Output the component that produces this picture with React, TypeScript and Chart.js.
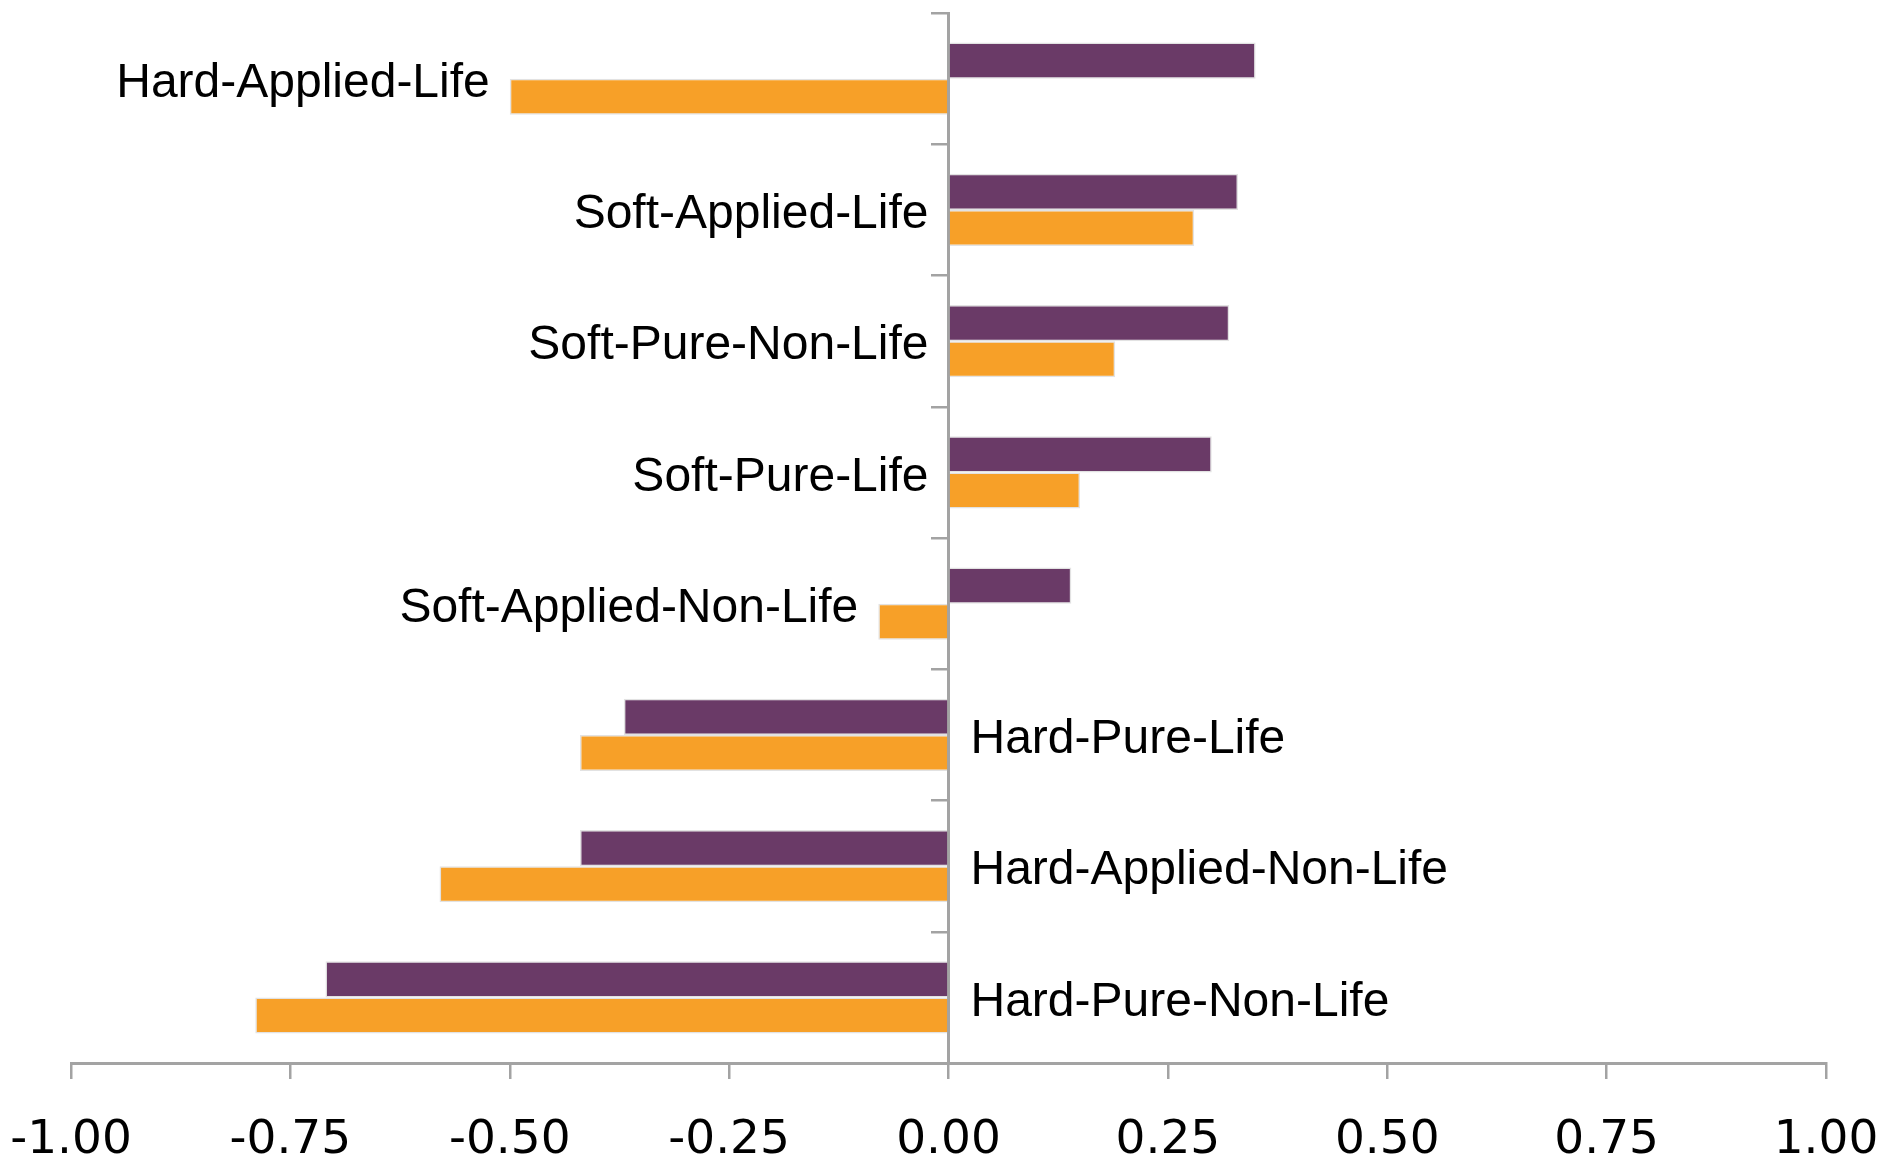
import React, { useEffect, useRef } from "react";
import { Chart, registerables } from "chart.js";

Chart.register(...registerables);

const categories = [
  "Hard-Applied-Life",
  "Soft-Applied-Life",
  "Soft-Pure-Non-Life",
  "Soft-Pure-Life",
  "Soft-Applied-Non-Life",
  "Hard-Pure-Life",
  "Hard-Applied-Non-Life",
  "Hard-Pure-Non-Life",
];
const purpleValues = [0.35, 0.33, 0.32, 0.3, 0.14, -0.37, -0.42, -0.71];
const orangeValues = [-0.5, 0.28, 0.19, 0.15, -0.08, -0.42, -0.58, -0.79];
const xTickMin = -1;
const xTickMax = 1;
const xTickStep = 0.25;

const PURPLE = "#6a3a67";
const ORANGE = "#f7a028";
const AXIS_GREY = "#a3a3a3";

const categoryLabelPlugin = {
  id: "categoryLabels",
  afterDatasetsDraw(chart: any) {
    const { ctx, scales } = chart;
    const xs = scales.x;
    const ys = scales.y;
    ctx.save();
    ctx.font = '48px "Liberation Sans", Arial, sans-serif';
    ctx.fillStyle = "#000";
    ctx.textBaseline = "middle";
    categories.forEach((label: string, i: number) => {
      const vals = [purpleValues[i], orangeValues[i]];
      const mn = Math.min(...vals);
      const mx = Math.max(...vals);
      const y = ys.getPixelForValue(i) + 5;
      if (mx > 0) {
        ctx.textAlign = "right";
        ctx.fillText(label, xs.getPixelForValue(Math.min(0, mn)) - 20, y);
      } else {
        ctx.textAlign = "left";
        ctx.fillText(label, xs.getPixelForValue(0) + 22, y);
      }
    });
    ctx.restore();
  },
};

export default function App() {
  const canvasRef = useRef<HTMLCanvasElement | null>(null);

  useEffect(() => {
    const canvas = canvasRef.current;
    if (!canvas) return;
    const chart = new Chart(canvas, {
      type: "bar",
      data: {
        labels: categories,
        datasets: [
          {
            label: "Series 1",
            data: purpleValues,
            backgroundColor: PURPLE,
            borderColor: "#e2e2e2",
            borderWidth: 1.5,
            categoryPercentage: 0.55,
            barPercentage: 1.0,
          },
          {
            label: "Series 2",
            data: orangeValues,
            backgroundColor: ORANGE,
            borderColor: "#e2e2e2",
            borderWidth: 1.5,
            categoryPercentage: 0.55,
            barPercentage: 1.0,
          },
        ],
      },
      options: {
        indexAxis: "y",
        responsive: false,
        animation: false,
        devicePixelRatio: 1,
        layout: { padding: { left: 71, right: 74, top: 13, bottom: 0 } },
        plugins: {
          legend: { display: false },
          tooltip: { enabled: false },
          title: { display: false },
        },
        scales: {
          x: {
            type: "linear",
            min: xTickMin,
            max: xTickMax,
            afterFit: (scale: any) => {
              scale.height = 96;
              scale.paddingLeft = 0;
              scale.paddingRight = 0;
            },
            ticks: {
              stepSize: xTickStep,
              color: "#000",
              padding: 38,
              font: { family: '"DejaVu Sans", Verdana, sans-serif', size: 47, lineHeight: 1.0 },
              callback: (v: any) => Number(v).toFixed(2),
            },
            grid: {
              drawOnChartArea: false,
              drawTicks: true,
              tickLength: 16,
              color: AXIS_GREY,
              lineWidth: 2.5,
            },
            border: { display: true, color: AXIS_GREY, width: 3 },
          },
          y: {
            type: "category",
            position: { x: 0 } as any,
            offset: true,
            ticks: { display: false },
            grid: {
              offset: true,
              drawOnChartArea: false,
              drawTicks: true,
              tickLength: 16,
              color: AXIS_GREY,
              lineWidth: 2.5,
            },
            border: { display: true, color: AXIS_GREY, width: 3 },
          },
        },
      },
      plugins: [categoryLabelPlugin],
    } as any);
    return () => chart.destroy();
  }, []);

  return (
    <div style={{ position: "fixed", left: 0, top: 0, width: 1900, height: 1159, background: "#fff" }}>
      <canvas ref={canvasRef} width={1900} height={1159} style={{ width: 1900, height: 1159 }} />
    </div>
  );
}
